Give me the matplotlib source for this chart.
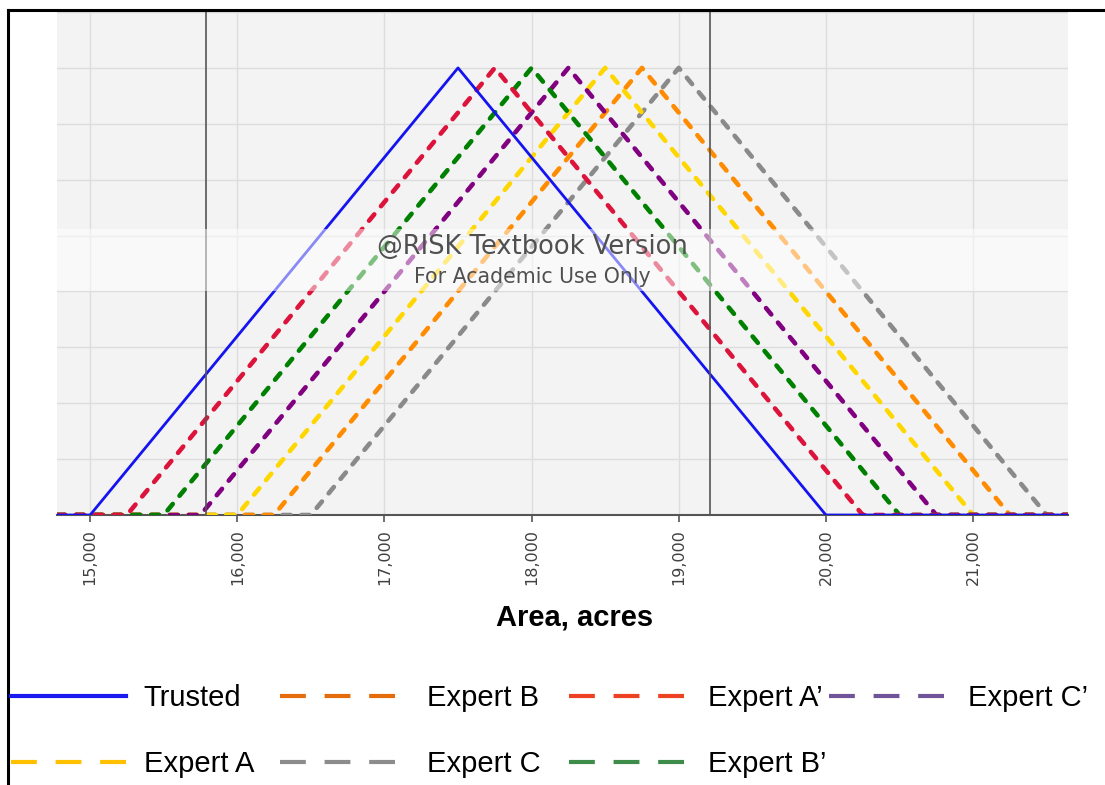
import numpy as np
import matplotlib
matplotlib.use("Agg")
import matplotlib.pyplot as plt
from matplotlib.lines import Line2D

# triangular distributions for the area, acres: min / most likely / max
labels = ["Trusted", "Expert A", "Expert B", "Expert C",
          "Expert A\u2019", "Expert B\u2019", "Expert C\u2019"]
mins = [15000, 16000, 16250, 16500, 15250, 15500, 15750]
modes = [17500, 18500, 18750, 19000, 17750, 18000, 18250]
maxs = [20000, 21000, 21250, 21500, 20250, 20500, 20750]

# colours of the curves in the chart, and of the (separately drawn) legend
line_colors = ["#1414f0", "#ffd700", "#ff8c00", "#8a8a8a", "#dc143c", "#008000", "#800080"]
legend_colors = ["#1a1af0", "#ffc000", "#e46c0a", "#8c8c8c", "#ee4123", "#3d8c4a", "#6f5499"]

# 5% / 95% delimiters of the trusted estimate
delims = [15790, 19210]

xticks = [15000, 16000, 17000, 18000, 19000, 20000, 21000]

W, H = 1105, 785
fig = plt.figure(figsize=(W / 100, H / 100), dpi=100)
ax = fig.add_axes([57 / W, 1 - 515 / H, (1068 - 57) / W, (515 - 12) / H])
ax.set_facecolor("#f3f3f3")

x0, x1 = 14775, 21645

# experts first (grey at the back), trusted on top
for i in [3, 2, 1, 6, 5, 4, 0]:
    a, m, b = mins[i], modes[i], maxs[i]
    peak = 2.0 / (b - a)
    xs = [x0, a, m, b, x1]
    ys = [0, 0, peak, 0, 0]
    if i == 0:
        ax.plot(xs, ys, color=line_colors[i], lw=2.0, zorder=4)
    else:
        ax.plot(xs, ys, color=line_colors[i], lw=3.3, dashes=(1.8, 2.3),
                dash_capstyle="round", zorder=3)

for d in delims:
    ax.axvline(d, color="#555555", lw=1.2, zorder=4)

ax.set_xlim(x0, x1)
ax.set_ylim(0, 0.00045)
ax.set_yticks(np.arange(0, 0.00046, 0.00005))
ax.tick_params(axis="y", left=False, labelleft=False)
ax.set_xticks(xticks)
ax.set_xticklabels([f"{t:,}" for t in xticks], rotation=90,
                   fontsize=11.5, color="#404040", family="DejaVu Sans")
ax.tick_params(axis="x", length=5, width=1.2, color="#555555", pad=5)
ax.grid(True, color="#dddddd", lw=1)
ax.set_axisbelow(True)
for s in ["left", "right", "top"]:
    ax.spines[s].set_visible(False)
ax.spines["bottom"].set_color("#555555")
ax.spines["bottom"].set_linewidth(1.5)
ax.spines["bottom"].set_zorder(2)

# watermark band
ax.axhspan(0.0002, 0.000256, color="white", alpha=0.5, lw=0, zorder=5)
ax.text(0.47, 0.533, "@RISK Textbook Version", transform=ax.transAxes,
        ha="center", va="center", fontsize=18.5, color="#505050",
        family="DejaVu Sans", zorder=6)
ax.text(0.47, 0.473, "For Academic Use Only", transform=ax.transAxes,
        ha="center", va="center", fontsize=14.8, color="#505050",
        family="DejaVu Sans", zorder=6)

ax.set_xlabel("Area, acres", fontsize=21, fontweight="bold",
              family="Liberation Sans", va="center")
ax.xaxis.set_label_coords((575 - 57) / 1011, -(617 - 515) / 503)

# legend: four columns, written row by row
def handle(i):
    if i == 0:
        return Line2D([], [], color=legend_colors[i], lw=3.0)
    return Line2D([], [], color=legend_colors[i], lw=3.0, dashes=(6.2, 4.5))

columns = [([0, 1], 11, 0.6), ([2, 3], 280, 1.1), ([4, 5], 569, 0.8), ([6], 829, 0.8)]
for idx, left, pad in columns:
    fig.legend(handles=[handle(i) for i in idx], labels=[labels[i] for i in idx],
               loc="upper left", bbox_to_anchor=(left / W, 1 - 684 / H),
               frameon=False, borderpad=0, borderaxespad=0,
               handlelength=3.95, handletextpad=pad, labelspacing=1.3,
               prop={"family": "Liberation Sans", "size": 21})

# frame lines of the picture
fig.add_artist(Line2D([8 / W, 8 / W], [0, 1 - 10 / H], transform=fig.transFigure,
                      color="black", lw=2.2))
fig.add_artist(Line2D([8 / W, 1], [1 - 10 / H, 1 - 10 / H], transform=fig.transFigure,
                      color="black", lw=2.2))

fig.savefig("out.png", dpi=100)
